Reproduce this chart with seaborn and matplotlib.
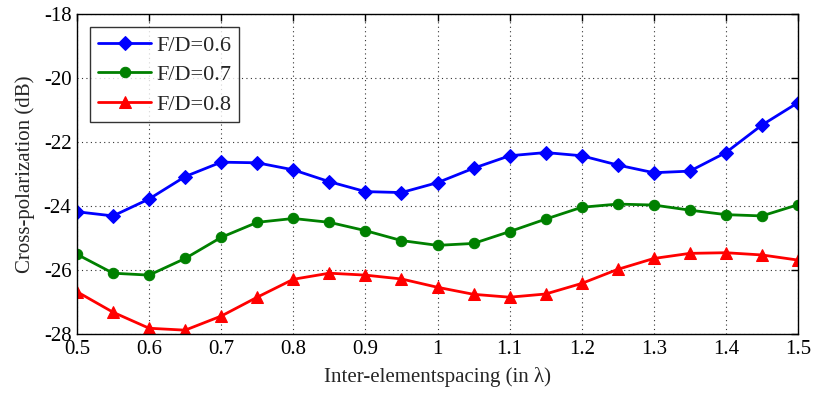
import numpy as np
import pandas as pd
import matplotlib
matplotlib.use("Agg")
import matplotlib.pyplot as plt
import seaborn as sns

spacing = [0.50, 0.55, 0.60, 0.65, 0.70, 0.75, 0.80, 0.85, 0.90, 0.95, 1.00,
           1.05, 1.10, 1.15, 1.20, 1.25, 1.30, 1.35, 1.40, 1.45, 1.50]
fd_06 = [-24.18, -24.31, -23.78, -23.08, -22.63, -22.65, -22.87, -23.24, -23.55, -23.58, -23.27,
         -22.82, -22.43, -22.33, -22.43, -22.72, -22.96, -22.91, -22.33, -21.47, -20.77]
fd_07 = [-25.51, -26.10, -26.16, -25.64, -24.98, -24.51, -24.39, -24.51, -24.77, -25.08, -25.23,
         -25.17, -24.80, -24.41, -24.04, -23.94, -23.97, -24.13, -24.27, -24.31, -23.96]
fd_08 = [-26.68, -27.32, -27.82, -27.88, -27.44, -26.85, -26.29, -26.10, -26.16, -26.28, -26.54,
         -26.76, -26.85, -26.75, -26.42, -25.98, -25.64, -25.48, -25.46, -25.53, -25.69]
series_labels = ["F/D=0.6", "F/D=0.7", "F/D=0.8"]
x_ticks = [0.5, 0.6, 0.7, 0.8, 0.9, 1.0, 1.1, 1.2, 1.3, 1.4, 1.5]
x_ticklabels = ["0.5", "0.6", "0.7", "0.8", "0.9", "1", "1.1", "1.2", "1.3", "1.4", "1.5"]
y_ticks = [-28, -26, -24, -22, -20, -18]

sns.set_theme(style="white")
plt.rcParams["font.family"] = ["Liberation Serif", "DejaVu Serif"]
plt.rcParams["axes.unicode_minus"] = False

fig = plt.figure(figsize=(8.14, 3.96), dpi=100)
ax = fig.add_axes([77 / 814, 1 - 334 / 396, (798 - 77) / 814, (334 - 14) / 396])

styles = [("#0000ff", "D", 7.5), ("#008000", "o", 7.5), ("#ff0000", "^", 8.5)]
for vals, lab, (col, mk, ms) in zip([fd_06, fd_07, fd_08], series_labels, styles):
    df = pd.DataFrame({"x": spacing, "y": vals})
    sns.lineplot(data=df, x="x", y="y", ax=ax, color=col, marker=mk,
                 markersize=ms, markeredgecolor=col, linewidth=2, label=lab)

ax.set_xlim(0.5, 1.5)
ax.set_ylim(-28, -18)
ax.set_xticks(x_ticks)
ax.set_xticklabels(x_ticklabels)
ax.set_yticks(y_ticks)
ax.set_yticklabels([str(v) for v in y_ticks])
ax.tick_params(direction="in", length=5, width=1, top=True, right=True,
               labelsize=15, colors="black", pad=4)
ax.grid(True, linestyle=(0, (1, 3)), color="black", linewidth=0.8, alpha=0.8)
for sp in ax.spines.values():
    sp.set_color("black")
    sp.set_linewidth(1)

ax.set_xlabel("Inter-elementspacing (in λ)", fontsize=15, labelpad=6)
ax.set_ylabel("Cross-polarization (dB)", fontsize=15, labelpad=6)

leg = ax.legend(loc="upper left", fontsize=16, frameon=True, fancybox=False,
                edgecolor="black", borderaxespad=0.6, handlelength=2.4,
                handletextpad=0.2, labelspacing=0.4, borderpad=0.35)
leg.get_frame().set_linewidth(1)

fig.savefig("out.png", dpi=100, facecolor="white")
